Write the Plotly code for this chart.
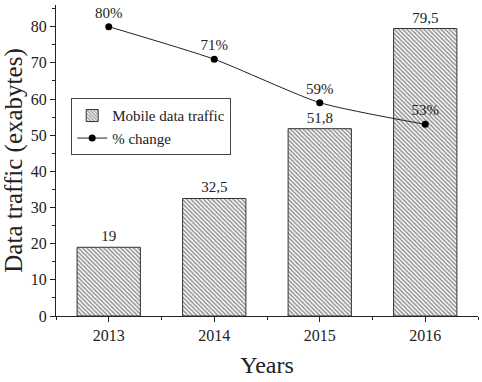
import plotly.graph_objects as go

years = [2013, 2014, 2015, 2016]
traffic = [19, 32.5, 51.8, 79.5]
traffic_labels = ["19", "32,5", "51,8", "79,5"]
change = [80, 71, 59, 53]
change_labels = ["80%", "71%", "59%", "53%"]

font_family = "Liberation Serif"

fig = go.Figure()
fig.add_trace(go.Bar(
    x=years, y=traffic, width=0.6, name="Mobile data traffic",
    text=traffic_labels, textposition="outside", cliponaxis=False,
    textfont=dict(family=font_family, size=15, color="#222"),
    marker=dict(color="white", line=dict(color="#333", width=1),
                pattern=dict(shape="\\", fgcolor="#222", bgcolor="white", size=3, solidity=0.5)),
))
fig.add_trace(go.Scatter(
    x=years, y=change, name="% change", mode="lines+markers+text",
    text=change_labels, textposition="top center",
    textfont=dict(family=font_family, size=15, color="#222"),
    line=dict(color="#222", width=1, shape="spline", smoothing=0.6),
    marker=dict(color="black", size=7),
))

fig.update_layout(
    width=482, height=382,
    margin=dict(l=56, r=4, t=5, b=66),
    paper_bgcolor="white", plot_bgcolor="white",
    font=dict(family=font_family, size=15, color="#222"),
    showlegend=True,
    legend=dict(x=0.036, y=0.7, xanchor="left", yanchor="top",
                bordercolor="#444", borderwidth=1, bgcolor="white",
                font=dict(family=font_family, size=15), tracegroupgap=0),
    bargap=0.4,
)
fig.update_xaxes(
    range=[2012.5, 2016.5], tickvals=years, ticktext=[str(y) for y in years],
    tickfont=dict(family=font_family, size=16),
    showline=True, linecolor="#222", linewidth=1.3, ticks="outside", ticklen=5,
    tickcolor="#222", showgrid=False, zeroline=False,
    minor=dict(ticks="outside", ticklen=3, dtick=0.5, tick0=2012.5, tickcolor="#222"),
    title=dict(text="Years", font=dict(family=font_family, size=24), standoff=12),
)
fig.update_yaxes(
    range=[0, 86], dtick=10, tick0=0,
    tickfont=dict(family=font_family, size=16),
    showline=True, linecolor="#222", linewidth=1.3, ticks="outside", ticklen=5,
    tickcolor="#222", showgrid=False, zeroline=False,
    minor=dict(ticks="outside", ticklen=3, dtick=5, tickcolor="#222"),
    title=dict(text="Data traffic (exabytes)", font=dict(family=font_family, size=25), standoff=4),
)

fig.write_html("out.html")
